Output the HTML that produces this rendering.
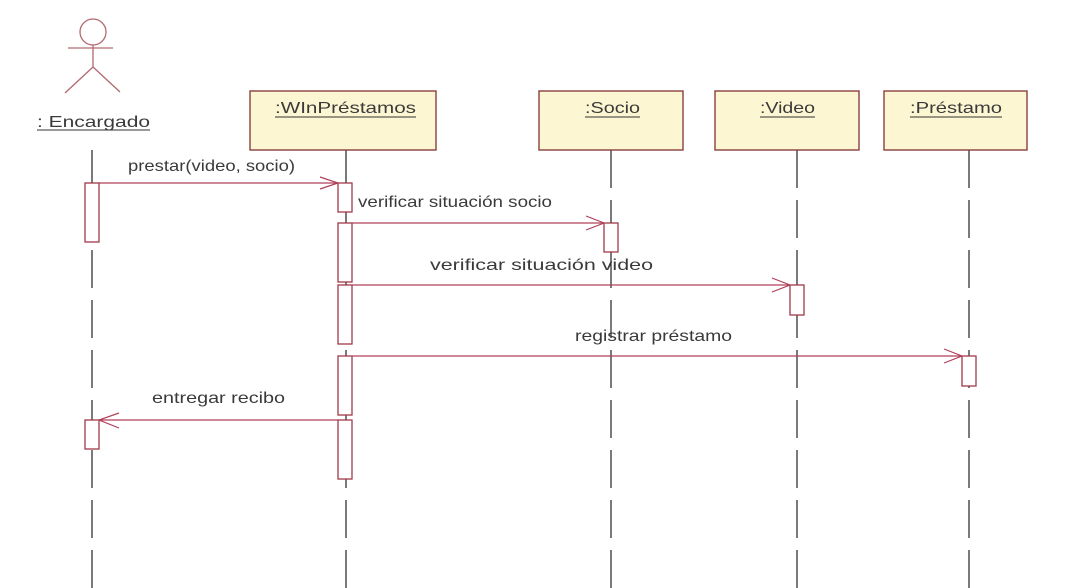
<!DOCTYPE html>
<html><head><meta charset="utf-8"><style>
html,body{margin:0;padding:0;background:#fff;}
svg{display:block;}
text{font-family:"Liberation Sans",sans-serif;font-size:16px;fill:#3a3a3a;}
</style></head><body>
<svg width="1076" height="588" viewBox="0 0 1076 588" xmlns="http://www.w3.org/2000/svg">
<g stroke="#222" stroke-width="1.2" stroke-dasharray="38,12" fill="none">
<line x1="92" y1="150" x2="92" y2="588"/>
<line x1="346" y1="150" x2="346" y2="588"/>
<line x1="611" y1="150" x2="611" y2="588"/>
<line x1="797" y1="150" x2="797" y2="588"/>
<line x1="969" y1="150" x2="969" y2="588"/>
</g>
<g stroke="#b06a70" stroke-width="1.3" fill="none">
<circle cx="93" cy="32" r="13"/>
<line x1="93" y1="45" x2="93" y2="67"/>
<line x1="68" y1="48" x2="113" y2="48"/>
<line x1="93" y1="67" x2="65" y2="93"/>
<line x1="93" y1="67" x2="120" y2="92"/>
</g>
<text x="37" y="127" textLength="113" lengthAdjust="spacingAndGlyphs">: Encargado</text>
<line x1="37" y1="130" x2="150" y2="130" stroke="#333"/>
<g fill="#fdf6d2" stroke="#8a3f3f" stroke-width="1.4">
<rect x="250" y="91" width="186" height="59"/>
<rect x="539" y="91" width="144" height="59"/>
<rect x="715" y="91" width="144" height="59"/>
<rect x="884" y="91" width="143" height="59"/>
</g>
<text x="275" y="113" textLength="141" lengthAdjust="spacingAndGlyphs">:WInPréstamos</text>
<line x1="275" y1="117" x2="416" y2="117" stroke="#333"/>
<text x="585" y="113" textLength="55" lengthAdjust="spacingAndGlyphs">:Socio</text>
<line x1="585" y1="117" x2="640" y2="117" stroke="#333"/>
<text x="760" y="113" textLength="55" lengthAdjust="spacingAndGlyphs">:Video</text>
<line x1="760" y1="117" x2="815" y2="117" stroke="#333"/>
<text x="910" y="113" textLength="92" lengthAdjust="spacingAndGlyphs">:Préstamo</text>
<line x1="910" y1="117" x2="1002" y2="117" stroke="#333"/>
<g fill="#fff" stroke="#a03a4a" stroke-width="1.3">
<rect x="85" y="183" width="14" height="59"/>
<rect x="85" y="420" width="14" height="29"/>
<rect x="338" y="183" width="14" height="29"/>
<rect x="338" y="223" width="14" height="59"/>
<rect x="338" y="285" width="14" height="59"/>
<rect x="338" y="356" width="14" height="59"/>
<rect x="338" y="420" width="14" height="59"/>
<rect x="604" y="223" width="14" height="29"/>
<rect x="790" y="285" width="14" height="30"/>
<rect x="962" y="356" width="14" height="30"/>
</g>
<g stroke="#b0405a" stroke-width="1.2" fill="none">
<line x1="99" y1="183" x2="338" y2="183"/><polyline points="320,177 338,183 320,189"/>
<line x1="352" y1="223" x2="604" y2="223"/><polyline points="586,216 604,223 586,230"/>
<line x1="352" y1="285" x2="790" y2="285"/><polyline points="772,278 790,285 772,292"/>
<line x1="352" y1="356" x2="962" y2="356"/><polyline points="944,349 962,356 944,363"/>
<line x1="338" y1="420" x2="99" y2="420"/><polyline points="119,413 99,420 119,428"/>
</g>
<text x="128" y="171" textLength="167" lengthAdjust="spacingAndGlyphs">prestar(video, socio)</text>
<text x="358" y="207" textLength="194" lengthAdjust="spacingAndGlyphs">verificar situación socio</text>
<text x="430" y="270" textLength="223" lengthAdjust="spacingAndGlyphs">verificar situación video</text>
<text x="575" y="341" textLength="157" lengthAdjust="spacingAndGlyphs">registrar préstamo</text>
<text x="152" y="403" textLength="133" lengthAdjust="spacingAndGlyphs">entregar recibo</text>
</svg>
</body></html>
